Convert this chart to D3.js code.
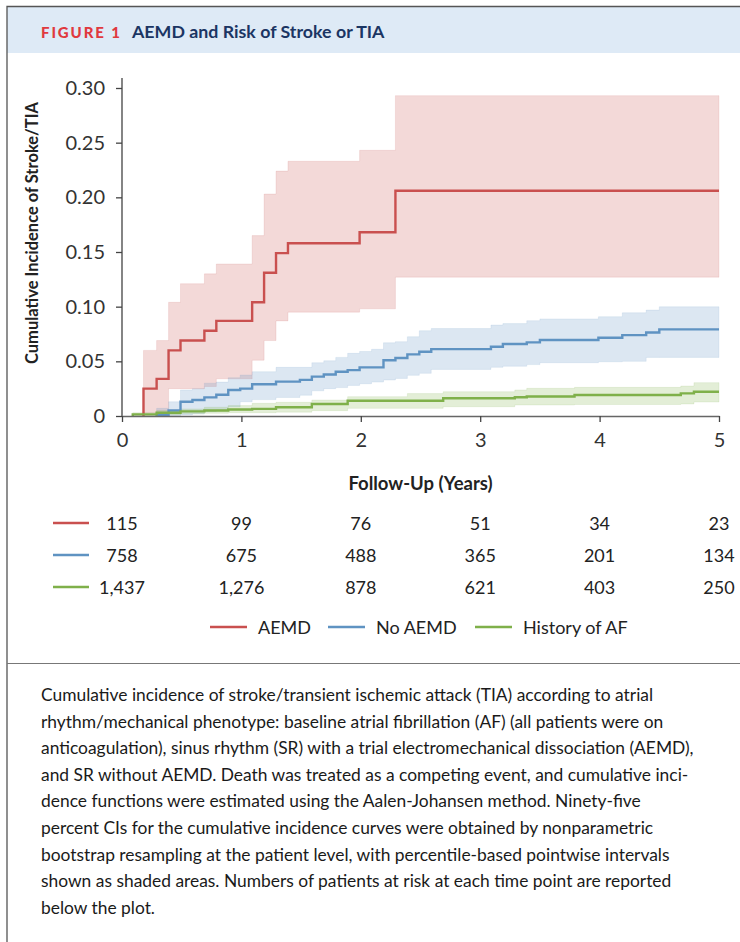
<!DOCTYPE html>
<html>
<head>
<meta charset="utf-8">
<script src="https://cdn.jsdelivr.net/npm/d3@7"></script>
<style>
  body { margin: 0; background: #fff; }
  svg { display: block; font-family: Lato, "Open Sans", sans-serif; }
</style>
</head>
<body>
<svg id="fig" width="740" height="942"></svg>
<script>
/* Tick labels and categories */
var years = [0, 1, 2, 3, 4, 5];
var yTicks = [0, 0.05, 0.10, 0.15, 0.20, 0.25, 0.30];
var groups = ["AEMD", "No AEMD", "History of AF"];
var colors = ["#c9504f", "#5f93c2", "#7fb04a"];

/* AEMD: step times (years), estimate and 95% CI */
var aemdTime = [0.18, 0.29, 0.39, 0.49, 0.69, 0.79, 1.09, 1.19, 1.29, 1.39, 1.99, 2.29];
var aemdEst  = [0.025, 0.034, 0.060, 0.069, 0.078, 0.087, 0.104, 0.131, 0.149, 0.158, 0.168, 0.206];
var aemdHi   = [0.060, 0.069, 0.104, 0.121, 0.130, 0.139, 0.165, 0.203, 0.224, 0.233, 0.243, 0.293];
var aemdLo   = [0.003, 0.003, 0.025, 0.025, 0.027, 0.034, 0.051, 0.069, 0.087, 0.095, 0.098, 0.127];

/* No AEMD */
var noTime = [0.29, 0.39, 0.49, 0.59, 0.69, 0.79, 0.89, 0.99, 1.09, 1.29, 1.49, 1.59, 1.69, 1.79, 1.89,
              1.99, 2.09, 2.19, 2.29, 2.39, 2.49, 2.59, 3.09, 3.19, 3.39, 3.50, 3.99, 4.19, 4.39, 4.50];
var noEst  = [0.001, 0.005, 0.013, 0.0146, 0.017, 0.0195, 0.0238, 0.025, 0.029, 0.0314, 0.033, 0.036, 0.038, 0.0405, 0.042,
              0.0445, 0.0445, 0.051, 0.053, 0.0564, 0.0588, 0.0612, 0.0634, 0.0658, 0.0673, 0.0695, 0.0716, 0.074, 0.0764, 0.0792];
var noHi   = [0.007, 0.013, 0.0238, 0.025, 0.030, 0.031, 0.035, 0.0375, 0.0405, 0.0445, 0.0445, 0.0487, 0.0505, 0.0536, 0.0573,
              0.059, 0.061, 0.067, 0.068, 0.0725, 0.078, 0.080, 0.0832, 0.0845, 0.0872, 0.0888, 0.0908, 0.0944, 0.0969, 0.0999];
var noLo   = [0, 0, 0.001, 0.002, 0.004, 0.0055, 0.0085, 0.013, 0.015, 0.017, 0.019, 0.023, 0.025, 0.026, 0.028,
              0.0295, 0.031, 0.0329, 0.0344, 0.0372, 0.039, 0.0426, 0.0445, 0.0455, 0.047, 0.0487, 0.0496, 0.050, 0.0536, 0.0536];

/* History of AF */
var afTime = [0.09, 0.29, 0.49, 0.69, 0.89, 1.09, 1.29, 1.59, 1.89, 2.39, 2.69, 3.29, 3.39, 3.79, 4.68, 4.79];
var afEst  = [0.0015, 0.003, 0.0042, 0.005, 0.006, 0.0065, 0.008, 0.011, 0.014, 0.014, 0.0162, 0.0172, 0.0178, 0.0192, 0.0207, 0.0222];
var afHi   = [0.003, 0.005, 0.0065, 0.008, 0.0095, 0.0116, 0.0125, 0.0146, 0.0177, 0.0205, 0.0222, 0.0238, 0.0253, 0.0262, 0.0274, 0.0305];
var afLo   = [0, 0.001, 0.002, 0.0025, 0.003, 0.003, 0.0035, 0.0049, 0.007, 0.007, 0.0085, 0.0101, 0.0101, 0.0105, 0.011, 0.0128];

/* Numbers at risk */
var riskAEMD = [115, 99, 76, 51, 34, 23];
var riskNo   = [758, 675, 488, 365, 201, 134];
var riskAF   = [1437, 1276, 878, 621, 403, 250];

var caption = [
  "Cumulative incidence of stroke/transient ischemic attack (TIA) according to atrial",
  "rhythm/mechanical phenotype: baseline atrial fibrillation (AF) (all patients were on",
  "anticoagulation), sinus rhythm (SR) with a trial electromechanical dissociation (AEMD),",
  "and SR without AEMD. Death was treated as a competing event, and cumulative inci-",
  "dence functions were estimated using the Aalen-Johansen method. Ninety-five",
  "percent CIs for the cumulative incidence curves were obtained by nonparametric",
  "bootstrap resampling at the patient level, with percentile-based pointwise intervals",
  "shown as shaded areas. Numbers of patients at risk at each time point are reported",
  "below the plot."
];

var svg = d3.select("#fig");

/* Frame and header band */
svg.append("rect").attr("x", 7).attr("y", 7).attr("width", 740).attr("height", 46).attr("fill", "#deeaf6");
svg.append("path").attr("d", "M7,942V6.5H740").attr("fill", "none").attr("stroke", "#555").attr("stroke-width", 1.3);
svg.append("line").attr("x1", 7).attr("x2", 740).attr("y1", 663.5).attr("y2", 663.5)
    .attr("stroke", "#777").attr("stroke-width", 1.2);

svg.append("text").attr("x", 41).attr("y", 37.5)
    .attr("fill", "#e0393e").attr("font-weight", 900).attr("font-size", 15)
    .attr("letter-spacing", 1.9).text("FIGURE 1");
svg.append("text").attr("x", 132).attr("y", 37.5)
    .attr("fill", "#1b3563").attr("font-weight", 700).attr("font-size", 17.8)
    .text("AEMD and Risk of Stroke or TIA");

/* Scales */
var x = d3.scaleLinear().domain([0, 5]).range([122, 719]);
var y = d3.scaleLinear().domain([0, 0.30]).range([416, 88]);

/* Turns step arrays into points from the start to year 5 */
function steps(times, est, lo, hi) {
    var pts = [{t: times[0], est: 0, lo: 0, hi: 0}];
    times.forEach(function(t, i) { pts.push({t: t, est: est[i], lo: lo[i], hi: hi[i]}); });
    var last = pts[pts.length - 1];
    pts.push({t: 5, est: last.est, lo: last.lo, hi: last.hi});
    return pts;
}
var series = [
    steps(aemdTime, aemdEst, aemdLo, aemdHi),
    steps(noTime, noEst, noLo, noHi),
    steps(afTime, afEst, afLo, afHi)
];

var band = d3.area().curve(d3.curveStepAfter)
    .x(function(d) { return x(d.t); })
    .y0(function(d) { return y(d.lo); })
    .y1(function(d) { return y(d.hi); });
var line = d3.line().curve(d3.curveStepAfter)
    .x(function(d) { return x(d.t); })
    .y(function(d) { return y(d.est); });

var plot = svg.append("g");
series.forEach(function(s, i) {
    plot.append("path").attr("d", band(s))
        .attr("fill", colors[i]).attr("fill-opacity", 0.22)
        .attr("stroke", colors[i]).attr("stroke-opacity", 0.12).attr("stroke-width", 1);
});
series.forEach(function(s, i) {
    plot.append("path").attr("d", line(s))
        .attr("fill", "none").attr("stroke", colors[i]).attr("stroke-width", 2.4);
});

/* Axes */
var yAxis = svg.append("g").attr("transform", "translate(" + x(0) + ",0)")
    .call(d3.axisLeft(y).tickValues(yTicks).tickSize(6).tickSizeOuter(0)
        .tickFormat(function(d) { return d === 0 ? "0" : d3.format(".2f")(d); }));
yAxis.select(".domain").attr("d", "M0," + y(0) + "V" + (y(0.30) - 10));
var xAxis = svg.append("g").attr("transform", "translate(0," + y(0) + ")")
    .call(d3.axisBottom(x).tickValues(years).tickSize(6).tickSizeOuter(0).tickFormat(d3.format("d")));

[yAxis, xAxis].forEach(function(a) {
    a.select(".domain").attr("stroke", "#666").attr("stroke-width", 1.6);
    a.selectAll(".tick line").attr("stroke", "#444").attr("stroke-width", 1.3);
    a.selectAll(".tick text").attr("fill", "#333").attr("font-size", 20)
        .attr("font-family", "Lato, sans-serif");
});
yAxis.selectAll(".tick text").attr("x", -17);
xAxis.selectAll(".tick text").attr("y", 17);

/* Axis titles */
svg.append("text").attr("transform", "translate(38,233) rotate(-90)")
    .attr("text-anchor", "middle").attr("font-weight", 700).attr("font-size", 16.5)
    .attr("fill", "#222").text("Cumulative Incidence of Stroke/TIA");
svg.append("text").attr("x", (x(0) + x(5)) / 2).attr("y", 490)
    .attr("text-anchor", "middle").attr("font-weight", 700).attr("font-size", 18.5)
    .attr("fill", "#222").text("Follow-Up (Years)");

/* Numbers at risk */
var risk = [riskAEMD, riskNo, riskAF];
risk.forEach(function(row, i) {
    var ry = 523 + i * 32;
    svg.append("line").attr("x1", 53).attr("x2", 89).attr("y1", ry).attr("y2", ry)
        .attr("stroke", colors[i]).attr("stroke-width", 2.6);
    svg.selectAll(null).data(row).enter().append("text")
        .attr("x", function(d, j) { return x(years[j]); })
        .attr("y", ry + 6.5)
        .attr("text-anchor", "middle").attr("font-size", 18).attr("fill", "#222")
        .text(function(d) { return d3.format(",")(d); });
});

/* Legend */
var legX = [210, 328, 475];
groups.forEach(function(g, i) {
    svg.append("line").attr("x1", legX[i]).attr("x2", legX[i] + 37).attr("y1", 627).attr("y2", 627)
        .attr("stroke", colors[i]).attr("stroke-width", 2.6);
    svg.append("text").attr("x", legX[i] + 48).attr("y", 633.5)
        .attr("font-size", 18).attr("fill", "#222").text(g);
});

/* Caption */
svg.append("g").selectAll("text").data(caption).enter().append("text")
    .attr("x", 41).attr("y", function(d, i) { return 701 + i * 26.6; })
    .attr("font-size", 17.4).attr("fill", "#1a1a1a")
    .text(function(d) { return d; });
</script>
</body>
</html>
